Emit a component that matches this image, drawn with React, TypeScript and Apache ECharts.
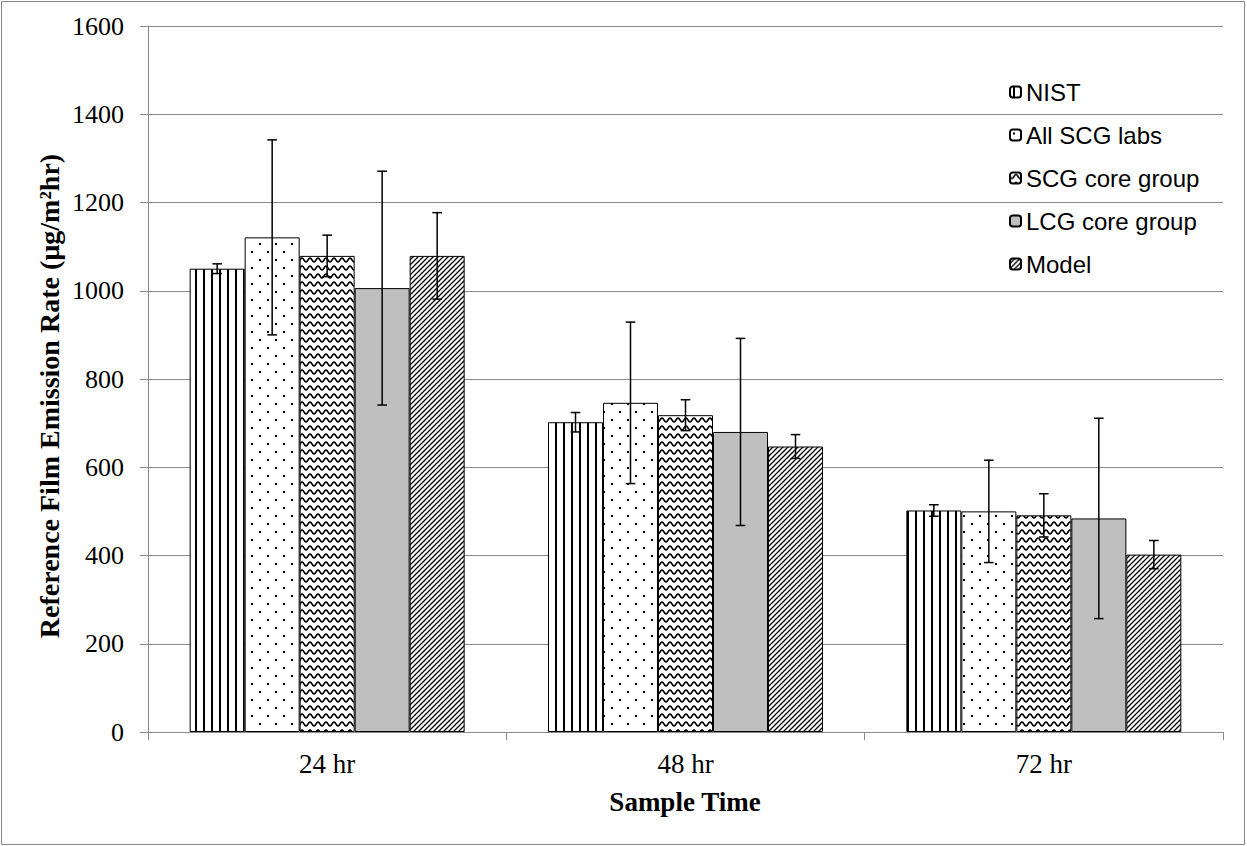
import React, { useEffect, useRef } from "react";
import * as echarts from "echarts";

const categories = ["24 hr", "48 hr", "72 hr"];
const seriesNames = ["NIST", "All SCG labs", "SCG core group", "LCG core group", "Model"];

const nistValues = [1050, 702, 502];
const nistErrors = [11, 22, 13];
const allScgValues = [1121, 746, 500];
const allScgErrors = [221, 183, 116];
const scgCoreValues = [1079, 718, 491];
const scgCoreErrors = [47, 35, 49];
const lcgCoreValues = [1006, 680, 484];
const lcgCoreErrors = [265, 212, 227];
const modelValues = [1079, 647, 402];
const modelErrors = [98, 27, 32];

const yTicks = [0, 200, 400, 600, 800, 1000, 1200, 1400, 1600];

const allValues = [nistValues, allScgValues, scgCoreValues, lcgCoreValues, modelValues];
const allErrors = [nistErrors, allScgErrors, scgCoreErrors, lcgCoreErrors, modelErrors];

const BAR_WIDTH = 55;
const SERIF = "'Liberation Serif', 'Times New Roman', serif";
const SANS = "'Liberation Sans', Arial, sans-serif";

function makeCanvas(size: number) {
  const c = document.createElement("canvas");
  c.width = size;
  c.height = size;
  const ctx = c.getContext("2d")!;
  ctx.fillStyle = "#ffffff";
  ctx.fillRect(0, 0, size, size);
  return { c, ctx };
}

function makePatterns() {
  // vertical lines
  const v = makeCanvas(8);
  v.ctx.fillStyle = "#000";
  v.ctx.fillRect(3, 0, 2, 8);
  // dots
  const d = makeCanvas(16);
  d.ctx.fillStyle = "#000";
  d.ctx.fillRect(3, 3, 2, 2);
  d.ctx.fillRect(11, 11, 2, 2);
  // wave
  const w = makeCanvas(8);
  w.ctx.strokeStyle = "#000";
  w.ctx.lineWidth = 1.6;
  w.ctx.beginPath();
  for (let i = -1; i <= 18; i++) {
    const x = i * 0.5;
    const y = 4 + 2 * Math.sin((2 * Math.PI * x) / 8);
    if (i === -1) w.ctx.moveTo(x, y);
    else w.ctx.lineTo(x, y);
  }
  w.ctx.stroke();
  // upward diagonal
  const s = 5;
  const g = makeCanvas(s);
  g.ctx.strokeStyle = "#000";
  g.ctx.lineWidth = 1.3;
  g.ctx.beginPath();
  g.ctx.moveTo(-1, 1);
  g.ctx.lineTo(1, -1);
  g.ctx.moveTo(0, s);
  g.ctx.lineTo(s, 0);
  g.ctx.moveTo(s - 1, s + 1);
  g.ctx.lineTo(s + 1, s - 1);
  g.ctx.stroke();
  return [
    { image: v.c, repeat: "repeat" },
    { image: d.c, repeat: "repeat" },
    { image: w.c, repeat: "repeat" },
    "#bfbfbf",
    { image: g.c, repeat: "repeat" },
  ];
}

export default function App() {
  const ref = useRef<HTMLDivElement>(null);

  useEffect(() => {
    if (!ref.current) return;
    const chart = echarts.init(ref.current, null, { renderer: "svg" });
    const fills = makePatterns();

    const barSeries = seriesNames.map((name, k) => ({
      name,
      type: "bar",
      data: allValues[k],
      barWidth: BAR_WIDTH,
      barGap: "0%",
      itemStyle: { color: fills[k] as any, borderColor: "#000", borderWidth: 1 },
      emphasis: { disabled: true },
      z: 2,
    }));

    const errSeries = seriesNames.map((name, k) => ({
      name: name + " error",
      type: "custom",
      z: 5,
      data: categories.map((_, i) => [i, allValues[k][i] - allErrors[k][i], allValues[k][i] + allErrors[k][i]]),
      renderItem: (params: any, api: any) => {
        const idx = api.value(0);
        const lo = api.coord([idx, api.value(1)]);
        const hi = api.coord([idx, api.value(2)]);
        const x = lo[0] + (k - 2) * BAR_WIDTH;
        const cap = 4.8;
        const style = { stroke: "#000", lineWidth: 1.5 };
        return {
          type: "group",
          children: [
            { type: "line", shape: { x1: x, y1: lo[1], x2: x, y2: hi[1] }, style },
            { type: "line", shape: { x1: x - cap, y1: lo[1], x2: x + cap, y2: lo[1] }, style },
            { type: "line", shape: { x1: x - cap, y1: hi[1], x2: x + cap, y2: hi[1] }, style },
          ],
        };
      },
    }));

    chart.setOption({
      animation: false,
      backgroundColor: "#ffffff",
      grid: { left: 148, top: 26, width: 1075, height: 706, containLabel: false },
      legend: {
        data: seriesNames,
        orient: "vertical",
        left: 1004,
        top: 75,
        itemWidth: 11,
        itemHeight: 11,
        itemGap: 19,
        textStyle: { fontFamily: SANS, fontSize: 24, color: "#000", lineHeight: 24 },
        selectedMode: false,
      },
      xAxis: {
        type: "category",
        data: categories,
        axisLine: { lineStyle: { color: "#898989", width: 1 } },
        axisTick: { show: true, length: 8, lineStyle: { color: "#898989" } },
        axisLabel: { fontFamily: SERIF, fontSize: 27, color: "#000", margin: 18 },
      },
      yAxis: {
        type: "value",
        min: yTicks[0],
        max: yTicks[yTicks.length - 1],
        interval: 200,
        axisLine: { show: true, lineStyle: { color: "#898989", width: 1 } },
        axisTick: { show: true, length: 8, lineStyle: { color: "#898989" } },
        axisLabel: {
          fontFamily: SERIF,
          fontSize: 26,
          color: "#000",
          margin: 24,
          formatter: (v: number) => String(v),
        },
        splitLine: { lineStyle: { color: "#898989", width: 1 } },
      },
      graphic: [
        {
          type: "rect",
          shape: { x: 1.5, y: 1.5, width: 1243, height: 843 },
          style: { fill: "none", stroke: "#898989", lineWidth: 1 },
          silent: true,
        },
        {
          type: "text",
          x: 49,
          y: 396,
          rotation: Math.PI / 2,
          style: {
            text: "Reference Film Emission Rate (µg/m²hr)",
            fontFamily: SERIF,
            fontWeight: "bold",
            fontSize: 28,
            fill: "#000",
            align: "center",
            verticalAlign: "middle",
          },
        },
        {
          type: "text",
          x: 685,
          y: 802,
          style: {
            text: "Sample Time",
            fontFamily: SERIF,
            fontWeight: "bold",
            fontSize: 27,
            fill: "#000",
            align: "center",
            verticalAlign: "middle",
          },
        },
      ],
      series: [...barSeries, ...errSeries],
    } as any);

    return () => chart.dispose();
  }, []);

  return (
    <div
      ref={ref}
      style={{ position: "absolute", left: 0, top: 0, width: 1247, height: 846 }}
    />
  );
}
